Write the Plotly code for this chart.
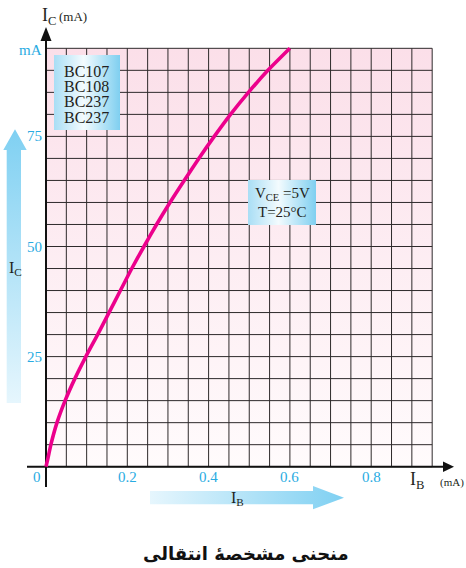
import numpy as np
import plotly.graph_objects as go

# ---------------- data ----------------
ic_ma = [0, 2, 5, 10, 15, 20, 25, 30, 35, 40, 45, 50, 55, 60, 65, 70, 75, 80, 85, 90, 95]
ib_ma = [0, 0.005, 0.012, 0.027, 0.047, 0.071, 0.098, 0.127, 0.155, 0.183, 0.211,
         0.241, 0.272, 0.305, 0.34, 0.376, 0.414, 0.454, 0.498, 0.546, 0.6]

x_tick_vals = [0, 0.2, 0.4, 0.6, 0.8]
x_tick_text = ["0", "0.2", "0.4", "0.6", "0.8"]
y_tick_vals = [25, 50, 75, 95]
y_tick_text = ["25", "50", "75", "mA"]

transistors = ["BC107", "BC108", "BC237", "BC237"]
cond_lines = ["V<sub>CE</sub> =5V", "T=25°C"]
title_text = "منحنی مشخصهٔ انتقالی"

X_MAX, Y_MAX = 0.95, 95
X_STEP, Y_STEP = 0.05, 5

# ---------------- geometry (pixel mapping) ----------------
W, H = 466, 568
X0, SX = 46.0, 406.5      # px of x=0, px per mA
Y0, SY = 466.7, 4.404     # px of y=0, px per mA


def X(p):
    return (p - X0) / SX


def Y(p):
    return (Y0 - p) / SY


SERIF = "Liberation Serif, Times New Roman, serif"
BLUE_TXT = "#29abe2"
DARK = "#231f20"

fig = go.Figure()

# background gradient of the plot area
fig.add_trace(go.Scatter(
    x=[0, X_MAX, X_MAX, 0, 0], y=[0, 0, Y_MAX, Y_MAX, 0],
    mode="lines", fill="toself", line=dict(width=0),
    fillgradient=dict(type="vertical", colorscale=[[0, "#fffbfc"], [1, "#fbdfe9"]]),
    hoverinfo="skip", showlegend=False))

# grid
gx, gy = [], []
for xv in np.arange(0, X_MAX + 1e-9, X_STEP):
    gx += [xv, xv, None]
    gy += [0, Y_MAX, None]
for yv in np.arange(0, Y_MAX + 1e-9, Y_STEP):
    gx += [0, X_MAX, None]
    gy += [yv, yv, None]
fig.add_trace(go.Scatter(x=gx, y=gy, mode="lines",
                         line=dict(color="#2e2a2b", width=1),
                         hoverinfo="skip", showlegend=False))


def poly(xs_px, ys_px, **kw):
    fig.add_trace(go.Scatter(x=[X(p) for p in xs_px], y=[Y(p) for p in ys_px],
                             mode="lines", fill="toself", line=dict(width=0),
                             hoverinfo="skip", showlegend=False, **kw))


# axes lines
fig.add_trace(go.Scatter(x=[X(27), X(445)], y=[0, 0], mode="lines",
                         line=dict(color="#111", width=2), hoverinfo="skip", showlegend=False))
fig.add_trace(go.Scatter(x=[0, 0], y=[Y(487), Y(38)], mode="lines",
                         line=dict(color="#111", width=2), hoverinfo="skip", showlegend=False))
poly([443, 454, 443, 443], [461.5, 466.7, 472, 461.5], fillcolor="#111")
poly([40.5, 46, 51.5, 40.5], [41, 27, 41, 41], fillcolor="#111")

# curve
fig.add_trace(go.Scatter(x=ib_ma, y=ic_ma, mode="lines",
                         line=dict(color="#ec008c", width=3.6, shape="spline", smoothing=0.6),
                         hoverinfo="skip", showlegend=False))

# legend box and condition box
box_grad = dict(type="horizontal",
                colorscale=[[0, "#a9def5"], [0.45, "#f3fbfe"], [1, "#7fcff0"]])
poly([54, 120, 120, 54, 54], [55, 55, 130, 130, 55], fillgradient=box_grad)
poly([248, 316, 316, 248, 248], [180, 180, 225, 225, 180], fillgradient=box_grad)

# I_C arrow
poly([6.7, 21, 21, 26.7, 15, 3.3, 6.7, 6.7], [403, 403, 150, 150, 129.3, 150, 150, 403],
     fillgradient=dict(type="vertical", colorscale=[[0, "#e6f6fd"], [1, "#7fd0f2"]]))
# I_B arrow
poly([150, 313, 313, 344, 313, 313, 150, 150], [491, 491, 486, 497.7, 509.3, 504.3, 504.3, 491],
     fillgradient=dict(type="horizontal", colorscale=[[0, "#e6f6fd"], [1, "#7fd0f2"]]))

ann = []
for v, t in zip(x_tick_vals, x_tick_text):
    ann.append(dict(x=v, y=Y(476.5), text=t, showarrow=False, xanchor="center",
                    yanchor="middle", xshift=-9 if v == 0 else 0,
                    font=dict(family=SERIF, size=15, color=BLUE_TXT)))
for v, t in zip(y_tick_vals, y_tick_text):
    ann.append(dict(x=X(44), y=v, text=t, showarrow=False, xanchor="right",
                    yanchor="middle", yshift=-2 if t == "mA" else 0,
                    font=dict(family=SERIF, size=15, color=BLUE_TXT)))
for i, t in enumerate(transistors):
    ann.append(dict(x=X(63), y=Y(71 + i * 15.4), text=t, showarrow=False,
                    xanchor="left", yanchor="middle", borderpad=0,
                    font=dict(family=SERIF, size=16, color=DARK)))
for i, t in enumerate(cond_lines):
    ann.append(dict(x=X(282), y=Y(194 + i * 18), text=t, showarrow=False,
                    xanchor="center", yanchor="middle",
                    font=dict(family=SERIF, size=15, color=DARK)))
# axis titles
ann.append(dict(x=X(40), y=Y(16), text="I<sub>C</sub>", showarrow=False, xanchor="left",
                yanchor="middle", font=dict(family=SERIF, size=18, color=DARK)))
ann.append(dict(x=X(57), y=Y(16), text="(mA)", showarrow=False, xanchor="left",
                yanchor="middle", font=dict(family=SERIF, size=13, color=DARK)))
ann.append(dict(x=X(408), y=Y(480), text="I<sub>B</sub>", showarrow=False, xanchor="left",
                yanchor="middle", font=dict(family=SERIF, size=18, color=DARK)))
ann.append(dict(x=X(466), y=Y(482), text="(mA)", showarrow=False, xanchor="right",
                yanchor="middle", font=dict(family=SERIF, size=11, color=DARK)))
# arrow labels
ann.append(dict(x=X(15), y=Y(268), text="I<sub>C</sub>", showarrow=False, xanchor="center",
                yanchor="middle", font=dict(family=SERIF, size=16, color=DARK)))
ann.append(dict(x=X(237), y=Y(498), text="I<sub>B</sub>", showarrow=False, xanchor="center",
                yanchor="middle", font=dict(family=SERIF, size=16, color=DARK)))
# title
ann.append(dict(x=X(246), y=Y(553), text="<b>" + title_text + "</b>", showarrow=False,
                xanchor="center", yanchor="middle",
                font=dict(family="DejaVu Sans, Noto Sans, sans-serif", size=18, color="#111111")))

fig.update_layout(
    width=W, height=H, margin=dict(l=0, r=0, t=0, b=0),
    paper_bgcolor="white", plot_bgcolor="white",
    xaxis=dict(range=[X(0), X(W)], visible=False, fixedrange=True),
    yaxis=dict(range=[Y(H), Y(0)], visible=False, fixedrange=True),
    annotations=ann, showlegend=False,
)

fig.write_html("out.html", config={"displayModeBar": False},
               post_script="document.body.style.margin='0px';document.body.style.overflow='hidden';")
